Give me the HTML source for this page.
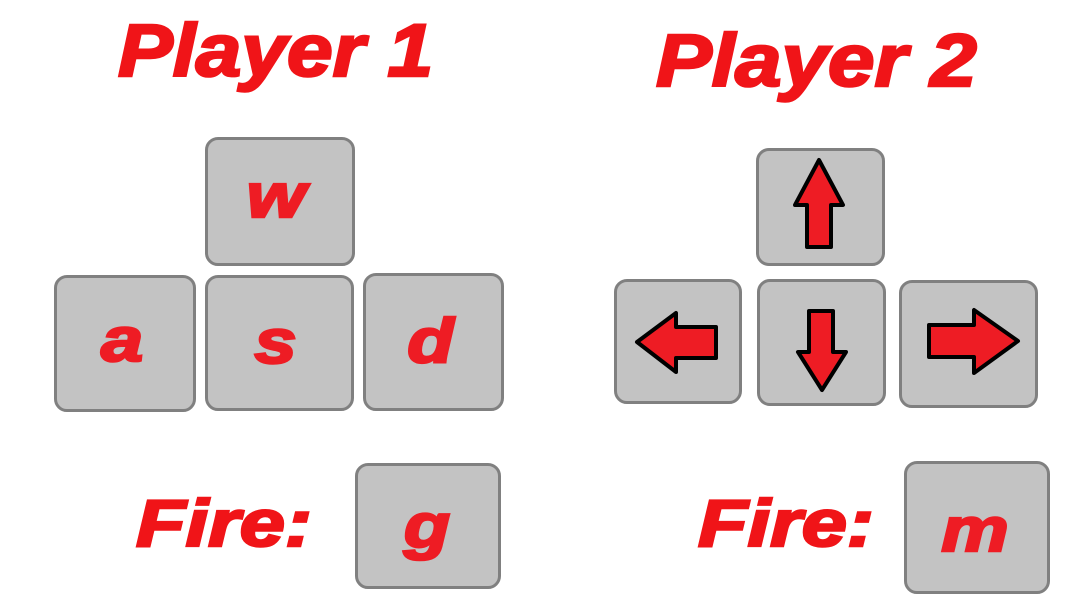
<!DOCTYPE html>
<html><head><meta charset="utf-8"><style>
body{margin:0;width:1080px;height:609px;background:#fff;position:relative;overflow:hidden;font-family:"Liberation Sans",sans-serif}
.t{position:absolute;color:#f01418;font-weight:bold;font-style:italic;white-space:nowrap;line-height:1;-webkit-text-stroke:2.5px #f01418;transform-origin:left top}
.k{position:absolute;background:#c3c3c3;border:3px solid #808080;border-radius:13px;box-sizing:border-box}
.l{position:absolute;left:0;right:0;text-align:center;color:#ee1c24;font-weight:bold;font-style:italic;font-size:62px;line-height:1;-webkit-text-stroke:2.5px #ee1c24;transform:scaleX(1.22)}
svg{position:absolute;left:0;top:0}
</style></head><body>
<div class="t" style="left:118px;top:14px;font-size:74px;transform:scaleX(1.11)">Player 1</div>
<div class="t" style="left:656px;top:24px;font-size:74px;transform:scaleX(1.13)">Player 2</div>
<div class="t" style="left:136px;top:490px;font-size:66px;transform:scaleX(1.23)">Fire:</div>
<div class="t" style="left:698px;top:490px;font-size:66px;transform:scaleX(1.23)">Fire:</div>

<div class="k" style="left:205px;top:137px;width:150px;height:129px"><div class="l" style="top:26px;left:-8px">w</div></div>
<div class="k" style="left:54px;top:275px;width:142px;height:137px"><div class="l" style="top:32px;left:-6px">a</div></div>
<div class="k" style="left:205px;top:275px;width:149px;height:136px"><div class="l" style="top:34px;left:-8px">s</div></div>
<div class="k" style="left:363px;top:273px;width:141px;height:138px"><div class="l" style="top:35px;left:-6px">d</div></div>
<div class="k" style="left:355px;top:463px;width:146px;height:126px"><div class="l" style="top:30px;left:-2px">g</div></div>
<div class="k" style="left:904px;top:461px;width:146px;height:133px"><div class="l" style="top:36px;left:-4px">m</div></div>

<div class="k" style="left:756px;top:148px;width:129px;height:118px"></div>
<div class="k" style="left:614px;top:279px;width:128px;height:125px"></div>
<div class="k" style="left:757px;top:279px;width:129px;height:127px"></div>
<div class="k" style="left:899px;top:280px;width:139px;height:128px"></div>

<svg width="1080" height="609">
<g fill="#ee1c24" stroke="#000" stroke-width="4" stroke-linejoin="round">
<polygon points="819,160 843,205 831,205 831,247 807,247 807,205 795,205"/>
<polygon points="822,390 798,352 809,352 809,311 833,311 833,352 846,352"/>
<polygon points="637,342 676,313 676,327 716,327 716,358 676,358 676,372"/>
<polygon points="1018,341 974,310 974,325 929,325 929,357 974,357 974,373"/>
</g>
</svg>
</body></html>
